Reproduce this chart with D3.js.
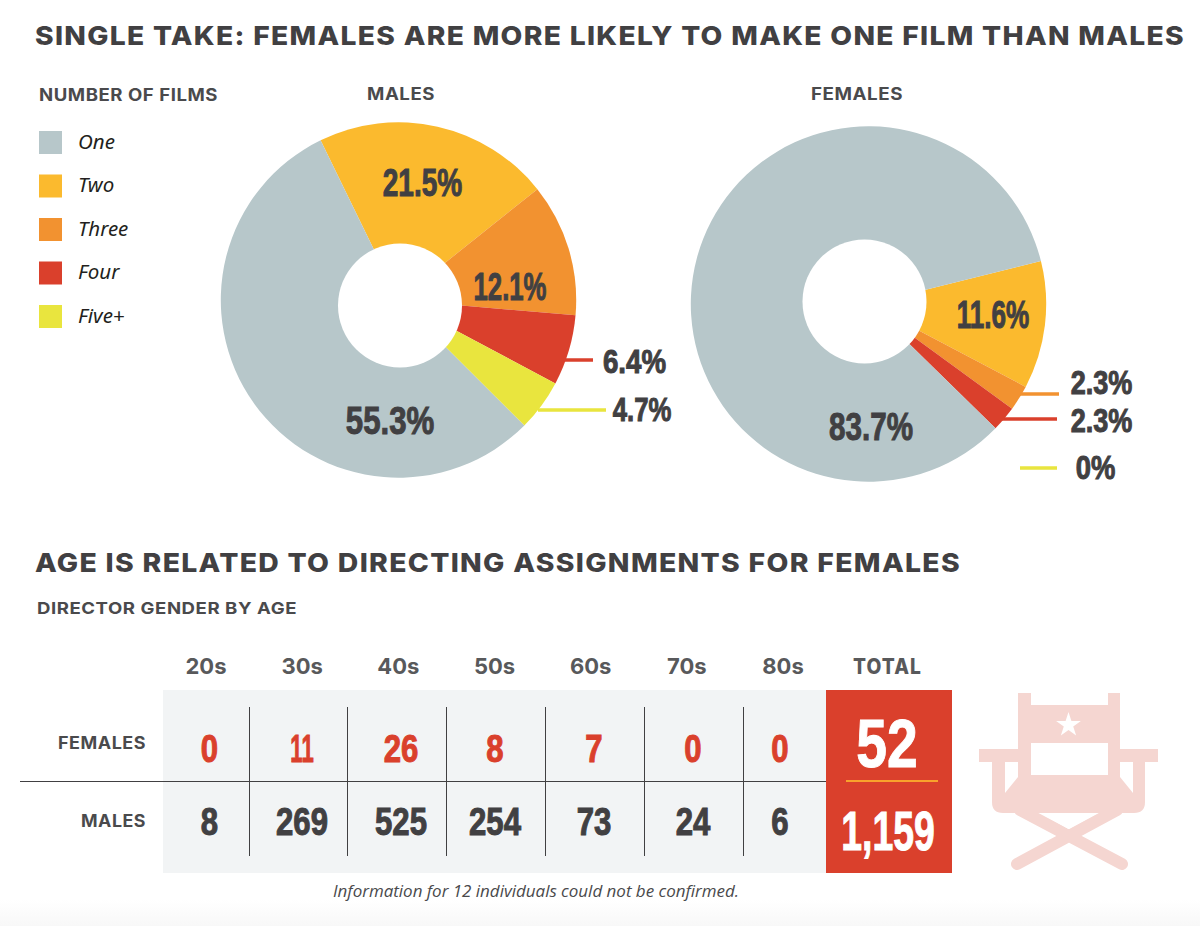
<!DOCTYPE html>
<html>
<head>
<meta charset="utf-8">
<script src="https://cdn.jsdelivr.net/npm/d3@7"></script>
<style>
  html, body { margin: 0; padding: 0; background: #fff; }
  svg { display: block; }
  .head { font-family: Inter, "Open Sans", sans-serif; font-weight: 800; fill: #414042; letter-spacing: 1.2px; }
  .sub { font-family: Inter, "Open Sans", sans-serif; font-weight: 700; fill: #4a4a4c; letter-spacing: .5px; }
  .num { font-family: "Liberation Sans", sans-serif; font-weight: 700; stroke-width: 1px; }
</style>
</head>
<body>
<script>
// pie data, clockwise from the first slice
var filmCounts = ["Two", "Three", "Four", "Five+", "One"];
var malesPct = [21.5, 12.1, 6.4, 4.7, 55.3];
var femalesPct = [11.6, 2.3, 2.3, 0, 83.7];

// legend runs in a different order
var legendItems = ["One", "Two", "Three", "Four", "Five+"];

// table data
var ages = ["20s", "30s", "40s", "50s", "60s", "70s", "80s"];
var femalesByAge = [0, 11, 26, 8, 7, 0, 0];
var malesByAge = [8, 269, 525, 254, 73, 24, 6];
var femalesTotal = 52;
var malesTotal = 1159;

var width = 1200, height = 926;
var dark = "#414042";

var color = d3.scaleOrdinal()
    .domain(legendItems)
    .range(["#b7c7ca", "#fbba2e", "#f29230", "#da402c", "#e9e53e"]);

var svg = d3.select("body").append("svg")
    .attr("width", width)
    .attr("height", height);

// faint grey at the very bottom of the page
var grad = svg.append("defs").append("linearGradient")
    .attr("id", "foot").attr("x1", 0).attr("x2", 0).attr("y1", 0).attr("y2", 1);
grad.append("stop").attr("offset", 0).attr("stop-color", "#fff");
grad.append("stop").attr("offset", 1).attr("stop-color", "#f8f8f8");
svg.append("rect")
    .attr("y", 900).attr("width", width).attr("height", 26)
    .attr("fill", "url(#foot)");

function heading(cls, str, x, y, size, len, anchor) {
  return svg.append("text")
      .attr("class", cls)
      .attr("x", x).attr("y", y)
      .attr("font-size", size)
      .attr("text-anchor", anchor || "start")
      .attr("textLength", len)
      .attr("lengthAdjust", "spacingAndGlyphs")
      .text(str);
}

// condensed heavy numbers; squeezed sideways to sit like the original face
function number(g, str, x, y, size, fill, squeeze) {
  return g.append("text")
      .attr("class", "num")
      .attr("transform", "translate(" + x + "," + y + ") scale(" + squeeze + ",1)")
      .attr("text-anchor", "middle")
      .attr("font-size", size)
      .attr("fill", fill)
      .attr("stroke", fill)
      .text(str);
}

heading("head", "SINGLE TAKE: FEMALES ARE MORE LIKELY TO MAKE ONE FILM THAN MALES", 35, 45, 26, 1150);
heading("head", "AGE IS RELATED TO DIRECTING ASSIGNMENTS FOR FEMALES", 35, 572, 26, 926);
heading("sub", "NUMBER OF FILMS", 39, 101, 17, 179);
heading("sub", "MALES", 367, 100, 17, 68);
heading("sub", "FEMALES", 811, 100, 17, 92);
heading("sub", "DIRECTOR GENDER BY AGE", 37, 614, 16.5, 260);

// legend
var legendY = d3.scalePoint().domain(legendItems).range([142.5, 316.5]);
var legend = svg.append("g").selectAll("g")
    .data(legendItems)
  .enter().append("g")
    .attr("transform", function(d) { return "translate(39," + legendY(d) + ")"; });
legend.append("rect")
    .attr("y", -11.5).attr("width", 23).attr("height", 23)
    .attr("fill", function(d) { return color(d); });
legend.append("text")
    .attr("x", 39).attr("y", 6)
    .attr("font-family", "'Noto Sans', sans-serif")
    .attr("font-style", "italic")
    .attr("font-size", 20.5)
    .attr("fill", "#231f20")
    .text(function(d) { return d; });

// pies: the wedges meet at the pie centre, the hole sits a little off it
var outerR = 177.7, holeR = 62;
var arc = d3.arc().innerRadius(0).outerRadius(outerR);

function donut(values, cx, cy, startDeg, holeX, holeY) {
  var start = startDeg * Math.PI / 180;
  var pie = d3.pie().sort(null).startAngle(start).endAngle(start + 2 * Math.PI);
  var g = svg.append("g").attr("transform", "translate(" + cx + "," + cy + ")");
  g.selectAll("path")
      .data(pie(values))
    .enter().append("path")
      .attr("d", arc)
      .attr("fill", function(d, i) { return color(filmCounts[i]); });
  svg.append("circle")
      .attr("cx", holeX).attr("cy", holeY).attr("r", holeR)
      .attr("fill", "#fff");
}

donut(malesPct, 398.5, 300, -26, 400, 305.5);
donut(femalesPct, 868.5, 304, 76, 864.5, 301.5);

function pct(v) { return v + "%"; }

var labels = svg.append("g");
// inside labels
number(labels, pct(malesPct[0]), 422.5, 196, 39, dark, 0.72);
number(labels, pct(malesPct[1]), 510, 300, 39, dark, 0.66);
number(labels, pct(malesPct[4]), 390, 434, 39, dark, 0.8);
number(labels, pct(femalesPct[0]), 993, 328, 39, dark, 0.67);
number(labels, pct(femalesPct[4]), 871, 440, 39, dark, 0.76);

// leader lines and their labels
function leader(x1, x2, y, series, i, values, tx, ty, squeeze) {
  labels.append("line")
      .attr("x1", x1).attr("x2", x2).attr("y1", y).attr("y2", y)
      .attr("stroke", color(series)).attr("stroke-width", 3.5);
  number(labels, pct(values[i]), tx, ty, 33, dark, squeeze);
}
leader(565, 593, 360, "Four", 2, malesPct, 634.5, 373, 0.84);
leader(538, 606, 410, "Five+", 3, malesPct, 642, 421, 0.78);
leader(1020, 1059, 394, "Three", 1, femalesPct, 1101.5, 394, 0.82);
leader(1002, 1057, 419, "Four", 2, femalesPct, 1101.5, 432, 0.82);
leader(1020, 1057, 468, "Five+", 3, femalesPct, 1095.5, 479, 0.83);

// table
var tableTop = 690, tableBottom = 873, rowLine = 781;
var tableLeft = 163, tableRight = 826, totalRight = 952;

var ageX = d3.scalePoint().domain(ages).range([206, 783]);
// cell centres, the first and last cells are narrower
var cellX = d3.scaleOrdinal().domain(ages).range([209.5, 302, 401, 495, 594, 693, 780]);
var ruleX = d3.scaleOrdinal().domain(ages.slice(1)).range([249, 347, 446, 545, 644, 743]);

svg.append("rect")
    .attr("x", tableLeft).attr("y", tableTop)
    .attr("width", tableRight - tableLeft).attr("height", tableBottom - tableTop)
    .attr("fill", "#f2f4f5");
svg.append("rect")
    .attr("x", tableRight).attr("y", tableTop)
    .attr("width", totalRight - tableRight).attr("height", tableBottom - tableTop)
    .attr("fill", "#da402c");

svg.append("g").selectAll("line")
    .data(ages.slice(1))
  .enter().append("line")
    .attr("x1", function(d) { return ruleX(d) + 0.5; })
    .attr("x2", function(d) { return ruleX(d) + 0.5; })
    .attr("y1", 707).attr("y2", 856)
    .attr("stroke", dark).attr("stroke-width", 1);
svg.append("line")
    .attr("x1", 20).attr("x2", tableRight).attr("y1", rowLine + 0.5).attr("y2", rowLine + 0.5)
    .attr("stroke", dark).attr("stroke-width", 1.2);
svg.append("line")
    .attr("x1", 846).attr("x2", 938).attr("y1", 781).attr("y2", 781)
    .attr("stroke", "#f9a22c").attr("stroke-width", 2);

svg.append("g").selectAll("text")
    .data(ages)
  .enter().append("text")
    .attr("class", "sub")
    .attr("x", function(d) { return ageX(d); })
    .attr("y", 674)
    .attr("text-anchor", "middle")
    .attr("font-size", 22)
    .style("fill", "#58595b")
    .style("letter-spacing", "0")
    .text(function(d) { return d; });
heading("head", "TOTAL", 887.5, 674, 21, 69, "middle").style("fill", "#58595b");
heading("sub", "FEMALES", 146, 749, 17, 88, "end");
heading("sub", "MALES", 146, 827, 17, 65, "end");

var cells = svg.append("g");
ages.forEach(function(a, i) {
  // the 1s in the original face are much narrower than a digit here
  number(cells, femalesByAge[i], cellX(a), 762, 38, "#da402c", femalesByAge[i] === 11 ? 0.58 : 0.82);
  number(cells, malesByAge[i], cellX(a), 835, 38, dark, 0.82);
});
number(cells, femalesTotal, 887, 767, 69, "#fff", 0.8);
number(cells, d3.format(",")(malesTotal), 888, 850, 55, "#fff", 0.68);

svg.append("text")
    .attr("x", 536).attr("y", 897)
    .attr("text-anchor", "middle")
    .attr("font-family", "'Open Sans', sans-serif")
    .attr("font-style", "italic")
    .attr("font-size", 16)
    .attr("textLength", 406)
    .attr("lengthAdjust", "spacingAndGlyphs")
    .attr("fill", "#4a4a4c")
    .text("Information for 12 individuals could not be confirmed.");

// director's chair icon
var chair = svg.append("g")
    .attr("transform", "translate(960,670)")
    .attr("fill", "#f5d6d1");
chair.append("path")
    .attr("d", "M60,140L162,194M157,140L57,194")
    .attr("stroke", "#f5d6d1")
    .attr("stroke-width", 12)
    .attr("stroke-linecap", "round");
chair.append("path")
    .attr("fill-rule", "evenodd")
    .attr("d", "M58,23H71V35H148V23H160V79H198V92H185V132Q185,143 174,143H43Q32,143 32,132V92H19V79H58Z" +
               "M71,73V105H148V73Z" +
               "M45,92V123L58,107V92Z" +
               "M173,92V123L160,107V92Z");
chair.append("path")
    .attr("fill", "#fff")
    .attr("d", d3.symbol().type(d3.symbolStar).size(190)())
    .attr("transform", "translate(108.5,55)");
chair.append("path")
    .attr("fill", "#fff")
    .attr("d", "M80,143H138L108.5,159Z");
</script>
</body>
</html>
